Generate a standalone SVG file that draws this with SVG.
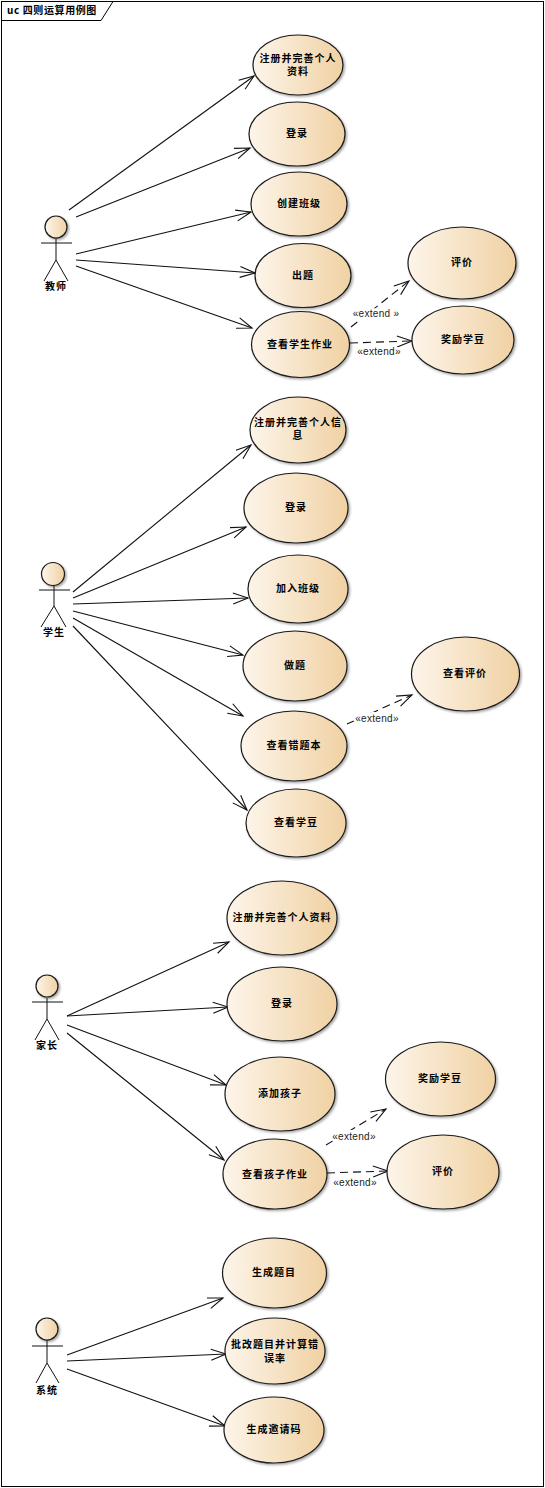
<svg xmlns="http://www.w3.org/2000/svg" width="545" height="1488" viewBox="0 0 545 1488">
<style>
text{font-family:"Noto Sans CJK SC","Liberation Sans",sans-serif;font-size:10px;font-weight:700;fill:#000;text-anchor:middle;letter-spacing:1px}
.st{font-family:"Liberation Sans",sans-serif;font-weight:400;letter-spacing:.3px;fill:#222;paint-order:stroke;stroke:#fff;stroke-width:5px}
.uc{fill:url(#g);stroke:#1a1a1a;stroke-width:1.2;filter:url(#s)}
.a{fill:none;stroke:#111;stroke-width:1}
.l{fill:none;stroke:#111;stroke-width:1.1;marker-end:url(#o)}
.d{fill:none;stroke:#111;stroke-width:1.1;stroke-dasharray:8 5;marker-end:url(#o)}
</style>
<defs>
<linearGradient id="g" x1="0" x2="1" y1="0" y2="0"><stop offset="0" stop-color="#fdf5ea"/><stop offset="1" stop-color="#f0d1a3"/></linearGradient>
<filter id="s" x="-10%" y="-10%" width="125%" height="125%"><feDropShadow dx="1.5" dy="1.5" stdDeviation="1" flood-color="#000" flood-opacity=".35"/></filter>
<marker id="o" markerUnits="userSpaceOnUse" markerWidth="20" markerHeight="16" refX="17" refY="8" orient="auto"><path d="M2 2.500L17 8L2 13.500" fill="none" stroke="#111" stroke-width="1.1"/></marker>
</defs>
<rect width="545" height="1488" fill="#fff"/>
<g id="frame"><rect x="1.5" y="1.5" width="542" height="1485" fill="none" stroke="#000"/><path d="M1.5 20.5H101L113 1.5" fill="none" stroke="#000"/><text x="52" y="14" style="letter-spacing:.6px">uc 四则运算用例图</text></g>
<g id="connectors">
<path class="l" d="M69 210L254 76"/><path class="l" d="M76 217L250 148"/><path class="l" d="M76 254L251 212"/><path class="l" d="M76 260L255 273"/><path class="l" d="M76 266L252 328"/>
<path class="d" d="M351 327L409 281"/><path class="d" d="M350 343L412 341"/>
<path class="l" d="M73 592L251 445"/><path class="l" d="M73 598L246 527"/><path class="l" d="M73 604L248 598"/><path class="l" d="M73 611L243 655"/><path class="l" d="M73 618L243 716"/><path class="l" d="M73 626L247 810"/>
<path class="d" d="M347 724L412 695"/>
<path class="l" d="M67 1016L229 942"/><path class="l" d="M67 1016L228 1007"/><path class="l" d="M67 1025L226 1085"/><path class="l" d="M67 1033L224 1160"/>
<path class="d" d="M326 1145L386 1109"/><path class="d" d="M327 1173L388 1171"/>
<path class="l" d="M67 1355L223 1298"/><path class="l" d="M67 1361L226 1354"/><path class="l" d="M67 1369L225 1426"/>
<text class="st" x="376" y="317">«extend »</text><text class="st" x="379" y="355">«extend»</text><text class="st" x="377" y="722">«extend»</text><text class="st" x="354" y="1140">«extend»</text><text class="st" x="355" y="1186">«extend»</text>
</g>
<g id="actor-teacher"><circle class="uc" cx="56" cy="227" r="11"/><path class="a" d="M41 243H72M56 238V260L44 281M56 260L68 281"/><text x="56" y="290">教师</text></g>
<g id="actor-student"><circle class="uc" cx="53" cy="574" r="11.5"/><path class="a" d="M39 590H70M54 586V606L41 627M54 606L66 627"/><text x="54" y="636">学生</text></g>
<g id="actor-parent"><circle class="uc" cx="47" cy="986" r="11"/><path class="a" d="M32 1002H63M47 998V1019L35 1040M47 1019L59 1040"/><text x="47" y="1049">家长</text></g>
<g id="actor-system"><circle class="uc" cx="47" cy="1329" r="11"/><path class="a" d="M32 1346H63M47 1340V1363L36 1383M47 1363L59 1383"/><text x="47" y="1394">系统</text></g>
<g id="t1"><ellipse class="uc" cx="298" cy="65" rx="45" ry="30"/><text x="298" y="62">注册并完善个人</text><text x="298" y="75">资料</text></g>
<g id="t2"><ellipse class="uc" cx="297" cy="134" rx="48" ry="32"/><text x="297" y="137">登录</text></g>
<g id="t3"><ellipse class="uc" cx="299" cy="204" rx="48" ry="32"/><text x="299" y="207">创建班级</text></g>
<g id="t4"><ellipse class="uc" cx="303" cy="275.500" rx="48" ry="32"/><text x="303" y="279">出题</text></g>
<g id="t5"><ellipse class="uc" cx="300.500" cy="344.500" rx="49" ry="33"/><text x="300" y="348">查看学生作业</text></g>
<g id="t6"><ellipse class="uc" cx="462" cy="263" rx="54" ry="36"/><text x="462" y="266">评价</text></g>
<g id="t7"><ellipse class="uc" cx="463" cy="340" rx="51" ry="34"/><text x="463" y="343">奖励学豆</text></g>
<g id="s1"><ellipse class="uc" cx="298" cy="430" rx="48" ry="33"/><text x="298" y="426">注册并完善个人信</text><text x="298" y="439">息</text></g>
<g id="s2"><ellipse class="uc" cx="296" cy="508" rx="52" ry="35"/><text x="296" y="511">登录</text></g>
<g id="s3"><ellipse class="uc" cx="298" cy="589" rx="50" ry="34"/><text x="298" y="592">加入班级</text></g>
<g id="s4"><ellipse class="uc" cx="295" cy="666" rx="52" ry="35"/><text x="295" y="669">做题</text></g>
<g id="s5"><ellipse class="uc" cx="294" cy="746" rx="53" ry="35"/><text x="294" y="749">查看错题本</text></g>
<g id="s6"><ellipse class="uc" cx="296" cy="823" rx="50" ry="34"/><text x="296" y="826">查看学豆</text></g>
<g id="s7"><ellipse class="uc" cx="465.500" cy="674" rx="54" ry="37"/><text x="465" y="677">查看评价</text></g>
<g id="p1"><ellipse class="uc" cx="282" cy="918" rx="55" ry="37"/><text x="282" y="921">注册并完善个人资料</text></g>
<g id="p2"><ellipse class="uc" cx="282" cy="1004" rx="55" ry="37"/><text x="282" y="1007">登录</text></g>
<g id="p3"><ellipse class="uc" cx="280" cy="1094" rx="55" ry="37"/><text x="280" y="1097">添加孩子</text></g>
<g id="p4"><ellipse class="uc" cx="275" cy="1174" rx="52" ry="35"/><text x="275" y="1178">查看孩子作业</text></g>
<g id="p5"><ellipse class="uc" cx="440.500" cy="1079" rx="55" ry="37"/><text x="440" y="1082">奖励学豆</text></g>
<g id="p6"><ellipse class="uc" cx="443" cy="1172" rx="56" ry="37"/><text x="443" y="1175">评价</text></g>
<g id="y1"><ellipse class="uc" cx="274.500" cy="1273" rx="52" ry="35"/><text x="274" y="1276">生成题目</text></g>
<g id="y2"><ellipse class="uc" cx="275" cy="1351" rx="50" ry="33"/><text x="275" y="1348">批改题目并计算错</text><text x="275" y="1362">误率</text></g>
<g id="y3"><ellipse class="uc" cx="274" cy="1430" rx="50" ry="33"/><text x="274" y="1433">生成邀请码</text></g>
</svg>
